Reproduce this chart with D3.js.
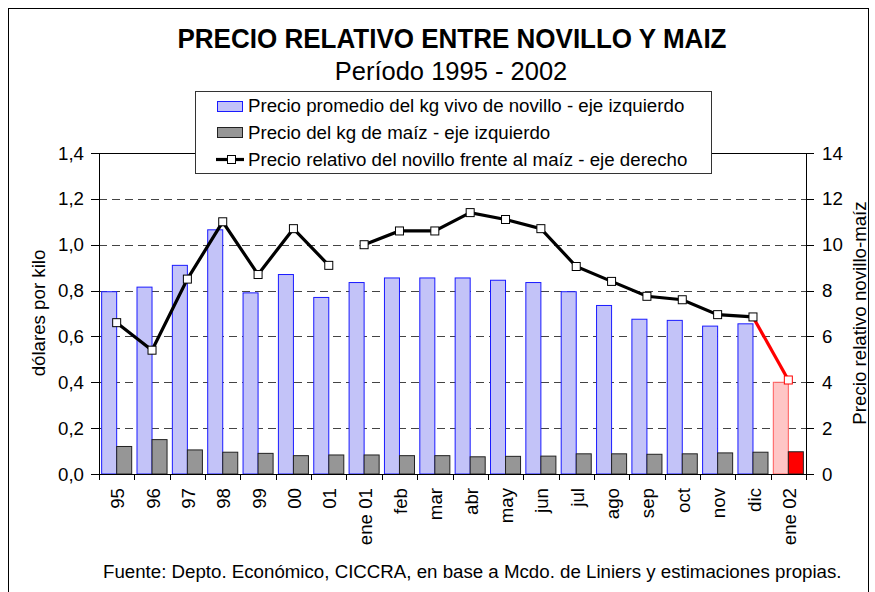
<!DOCTYPE html>
<meta charset="utf-8">
<style>
  body { margin: 0; background: #fff; }
  svg { display: block; font-family: "Liberation Sans", Arial, sans-serif; }
</style>
<svg width="875" height="592"></svg>
<script src="https://d3js.org/d3.v7.min.js"></script>
<script>

// valores
var categorias = ["95","96","97","98","99","00","01","ene 01","feb","mar","abr","may","jun","jul","ago","sep","oct","nov","dic","ene 02"];
var novillo = [0.795,0.815,0.91,1.065,0.79,0.87,0.77,0.835,0.855,0.855,0.855,0.845,0.835,0.795,0.735,0.675,0.67,0.645,0.655,0.40];
var maiz = [0.12,0.15,0.105,0.095,0.09,0.08,0.083,0.083,0.08,0.08,0.075,0.077,0.078,0.088,0.088,0.086,0.088,0.092,0.095,0.097];
var relativo = [6.6,5.4,8.5,11.0,8.7,10.7,9.1,10.0,10.6,10.6,11.4,11.1,10.7,9.05,8.4,7.75,7.6,6.95,6.85,4.1];
var ticksIzq = [0,0.2,0.4,0.6,0.8,1.0,1.2,1.4];
var ticksDer = [0,2,4,6,8,10,12,14];
var corteDespues = "01";     // la linea se corta entre 01 y ene 01
var destacado = "ene 02";    // estimacion, en rojo

var leyenda = [
  "Precio promedio del kg vivo de novillo - eje izquierdo",
  "Precio del kg de maíz - eje izquierdo",
  "Precio relativo del novillo frente al maíz - eje derecho"
];

var svg = d3.select("svg");
var fs = 18.7;

var x = d3.scaleBand().domain(categorias).range([99, 806]).padding(0);
var yL = d3.scaleLinear().domain([0, 1.4]).range([474, 153]);
var yR = d3.scaleLinear().domain([0, 14]).range([474, 153]);
var fmt = function(v){ return d3.format(".1f")(v).replace(".", ","); };

// marco exterior
svg.append("rect").attr("x", 8.5).attr("y", 8.5).attr("width", 860).attr("height", 600)
  .attr("fill", "#fff").attr("stroke", "#000").attr("stroke-width", 1);

// grilla
svg.append("g").selectAll("line").data(ticksIzq.filter(function(t){ return t > 0 && t < 1.4; }))
  .enter().append("line")
  .attr("x1", 99).attr("x2", 806)
  .attr("y1", function(d){ return Math.round(yL(d)) + 0.5; })
  .attr("y2", function(d){ return Math.round(yL(d)) + 0.5; })
  .attr("stroke", "#444").attr("stroke-dasharray", "8,5");

// borde superior del area
svg.append("line").attr("x1", 99).attr("x2", 806).attr("y1", 153.5).attr("y2", 153.5).attr("stroke", "#000");

var bw = x.bandwidth(), barW = bw * 0.425, off = (bw - 2 * barW) / 2;

// barras novillo
svg.append("g").selectAll("rect").data(categorias).enter().append("rect")
  .attr("x", function(d){ return x(d) + off; })
  .attr("y", function(d, i){ return yL(novillo[i]); })
  .attr("width", barW)
  .attr("height", function(d, i){ return yL(0) - yL(novillo[i]); })
  .attr("fill", function(d){ return d == destacado ? "#ffc6c6" : "#c3c3f8"; })
  .attr("stroke", function(d){ return d == destacado ? "#ff5a5a" : "#1a1aff"; })
  .attr("stroke-width", 1);

// barras maiz
svg.append("g").selectAll("rect").data(categorias).enter().append("rect")
  .attr("x", function(d){ return x(d) + off + barW; })
  .attr("y", function(d, i){ return yL(maiz[i]); })
  .attr("width", barW)
  .attr("height", function(d, i){ return yL(0) - yL(maiz[i]); })
  .attr("fill", function(d){ return d == destacado ? "#ff0000" : "#969696"; })
  .attr("stroke", "#222")
  .attr("stroke-width", 1);

// linea de precio relativo
var pts = categorias.map(function(c, i){ return [x(c) + bw / 2, yR(relativo[i]), c]; });
var corte = categorias.indexOf(corteDespues), ultimo = categorias.indexOf(destacado);
var line = d3.line();
svg.append("path").attr("d", line(pts.slice(0, corte + 1)))
  .attr("fill", "none").attr("stroke", "#000").attr("stroke-width", 3.2);
svg.append("path").attr("d", line(pts.slice(corte + 1, ultimo)))
  .attr("fill", "none").attr("stroke", "#000").attr("stroke-width", 3.2);
svg.append("path").attr("d", line(pts.slice(ultimo - 1, ultimo + 1)))
  .attr("fill", "none").attr("stroke", "#ff0000").attr("stroke-width", 3.2);

svg.append("g").selectAll("rect").data(pts).enter().append("rect")
  .attr("x", function(d){ return d[0] - 4; })
  .attr("y", function(d){ return d[1] - 4; })
  .attr("width", 8).attr("height", 8)
  .attr("fill", "#fff")
  .attr("stroke", function(d){ return d[2] == destacado ? "#ff0000" : "#000"; })
  .attr("stroke-width", 1);

// ejes
var ax = svg.append("g").attr("stroke", "#000").attr("fill", "none");
ax.append("line").attr("x1", 99.5).attr("x2", 99.5).attr("y1", 153).attr("y2", 475);
ax.append("line").attr("x1", 806.5).attr("x2", 806.5).attr("y1", 153).attr("y2", 475);
ax.append("line").attr("x1", 99).attr("x2", 807).attr("y1", 474.5).attr("y2", 474.5);
ticksIzq.forEach(function(t){
  var y = Math.round(yL(t)) + 0.5;
  ax.append("line").attr("x1", 91).attr("x2", 99.5).attr("y1", y).attr("y2", y);
});
ticksDer.forEach(function(t){
  var y = Math.round(yR(t)) + 0.5;
  ax.append("line").attr("x1", 806.5).attr("x2", 814).attr("y1", y).attr("y2", y);
});
categorias.concat([null]).forEach(function(c){
  var xx = Math.round(c == null ? 806 : x(c)) + 0.5;
  ax.append("line").attr("x1", xx).attr("x2", xx).attr("y1", 474.5).attr("y2", 480);
});

var txt = svg.append("g").attr("fill", "#000").style("font-size", fs + "px");

txt.selectAll(".tl").data(ticksIzq).enter().append("text")
  .attr("x", 84).attr("y", function(d){ return yL(d); }).attr("dy", "0.35em")
  .attr("text-anchor", "end").text(fmt);
txt.selectAll(".tr").data(ticksDer).enter().append("text")
  .attr("x", 822).attr("y", function(d){ return yR(d); }).attr("dy", "0.35em")
  .text(function(d){ return d; });

txt.selectAll(".tx").data(categorias).enter().append("text")
  .attr("transform", function(d){ return "translate(" + (x(d) + bw / 2 + 1) + ",488) rotate(-90)"; })
  .attr("dy", "0.35em").attr("text-anchor", "end")
  .text(function(d){ return d; });

txt.append("text").attr("transform", "translate(45,313) rotate(-90)")
  .attr("text-anchor", "middle").text("dólares por kilo");
txt.append("text").attr("transform", "translate(866,313) rotate(-90)")
  .attr("text-anchor", "middle").text("Precio relativo novillo-maíz");

// titulos
svg.append("text").attr("x", 452).attr("y", 48).attr("text-anchor", "middle")
  .style("font-size", "27px").style("font-weight", "bold")
  .attr("textLength", 549).attr("lengthAdjust", "spacingAndGlyphs")
  .text("PRECIO RELATIVO ENTRE NOVILLO Y MAIZ");
svg.append("text").attr("x", 451).attr("y", 79.5).attr("text-anchor", "middle")
  .style("font-size", "25.5px")
  .text("Período 1995 - 2002");

// fuente
txt.append("text").attr("x", 103).attr("y", 578)
  .text("Fuente: Depto. Económico, CICCRA, en base a Mcdo. de Liniers y estimaciones propias.");

// leyenda
var lg = svg.append("g");
lg.append("rect").attr("x", 195.5).attr("y", 91.5).attr("width", 516).attr("height", 82)
  .attr("fill", "#fff").attr("stroke", "#333");
lg.append("rect").attr("x", 217.5).attr("y", 101.5).attr("width", 25).attr("height", 10)
  .attr("fill", "#c3c3f8").attr("stroke", "#1a1aff");
lg.append("rect").attr("x", 217.5).attr("y", 127.5).attr("width", 25).attr("height", 10)
  .attr("fill", "#969696").attr("stroke", "#222");
lg.append("line").attr("x1", 216).attr("x2", 244).attr("y1", 159.5).attr("y2", 159.5)
  .attr("stroke", "#000").attr("stroke-width", 3.2);
lg.append("rect").attr("x", 227.5).attr("y", 155.5).attr("width", 8).attr("height", 8)
  .attr("fill", "#fff").attr("stroke", "#000");
lg.selectAll("text").data(leyenda).enter().append("text")
  .attr("x", 248).attr("y", function(d, i){ return 111.5 + i * 27; })
  .style("font-size", fs + "px")
  .text(function(d){ return d; });

</script>
